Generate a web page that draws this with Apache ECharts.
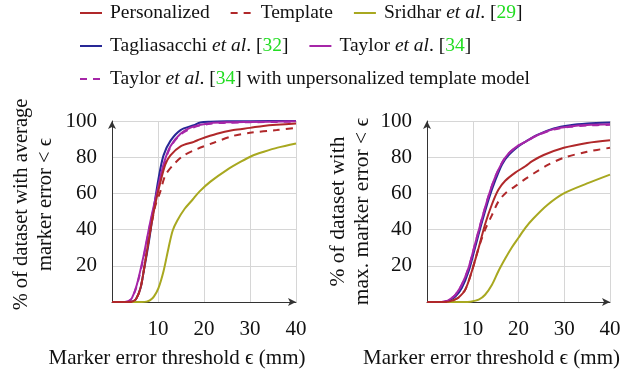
<!DOCTYPE html>
<html>
<head>
<meta charset="utf-8">
<script src="https://cdn.jsdelivr.net/npm/echarts@6/dist/echarts.min.js"></script>
<style>
  html, body { margin: 0; padding: 0; background: #fff; }
  #chart { width: 629px; height: 371px; }
</style>
</head>
<body>
<div id="chart"></div>
<script>
// left panel: average marker error, [threshold mm, % of dataset]
const avgPersonalized = [[0,0],[3.5,0],[4.5,0.3],[5.3,2],[6.2,7.7],[7.2,22],[8.3,39],[9.4,54],[10.5,66],[11.6,76],[12.7,81],[14.9,86],[17.8,88.5],[19.2,90],[22.8,93],[26.4,95],[30,96.2],[32.9,97.3],[40,98.6]];
const avgTemplate = [[0,0],[3.5,0],[4.5,0.3],[5.3,2],[6.2,7.7],[7.2,22],[8.3,39],[9.4,53],[10.5,61],[11.6,70],[13.4,76],[15.6,81],[18.5,84.5],[22.1,88],[26.4,91.8],[30,93.5],[35.8,95],[40,96.2]];
const avgSridhar = [[0,0],[6.5,0],[7.5,0.2],[8.3,1],[9.1,3],[10.1,7.7],[11.2,17],[12.3,30],[13.2,39.5],[14.2,45],[15.8,51.5],[17.5,56.5],[19,61],[21.4,66.5],[25,73],[28,77.5],[30.5,80.8],[33,83],[36,85.3],[40,87.6]];
const avgTagliasacchi = [[0,0],[3.5,0],[4.5,0.3],[5.2,1.5],[6.2,7.7],[6.9,17],[8,33],[9.1,52],[10.1,68],[11.2,81],[12.7,89],[14.9,95],[17.8,97.7],[19.2,99.2],[21.4,99.6],[25,99.8],[30,99.9],[40,100]];
const avgTaylor = [[0,0],[2.8,0],[3.5,0.3],[4.3,2],[5.4,9.5],[6.9,26],[8.3,44],[9.8,61],[11.2,76],[12.7,86],[14.9,93],[17.8,97],[21.4,98.8],[25,99.3],[30,99.5],[40,99.8]];
const avgTaylorTemplate = [[0,0],[2.8,0],[3.5,0.3],[4.3,2],[5.4,9],[6.9,25],[8.3,43],[9.8,60],[11.2,75],[12.7,85.5],[14.9,92.5],[17.8,96.5],[21.4,98.5],[25,99],[30,99.3],[40,99.6]];

// right panel: max marker error
const maxPersonalized = [[0,0],[3.8,0],[4.7,0.2],[5.8,1],[6.9,2.5],[8.4,7],[9.8,17],[11.3,30],[12.7,43],[14.2,54],[15.6,62],[17.1,67],[19.3,71.5],[21.5,75],[23,77.8],[25.5,81.2],[29.9,85.2],[35,87.9],[40,89.4]];
const maxTemplate = [[0,0],[3.8,0],[4.7,0.2],[5.8,1],[6.9,2.5],[8.4,7],[9.8,17],[11.3,30],[12.7,40],[14.2,48],[15.6,55.5],[17.1,60],[19.3,64],[21.5,68],[23.3,71],[26.3,75.6],[29.9,79.7],[35,83],[40,85.2]];
const maxSridhar = [[0,0],[8,0],[9.5,0.2],[11.3,1.3],[12.7,4],[14.2,9.5],[15.6,17],[17.1,24],[18.5,30],[20,35.5],[21.5,41],[23.2,46],[26.3,53.6],[29.9,60],[35,65.5],[40,70.4]];
const maxTagliasacchi = [[0,0],[3.2,0],[4,0.2],[5,1],[6.2,3],[7.6,7.7],[9.1,17],[10.5,30],[12,44],[13.5,57],[14.9,67],[16.4,76],[17.8,81],[20,86],[21.5,88.5],[24,92.2],[27.7,95.9],[31.3,97.7],[35,98.6],[40,99.2]];
const maxTaylor = [[0,0],[3.2,0],[4,0.3],[5,1.5],[6.2,4],[7.6,9.5],[9.1,19],[10.5,32],[12,46],[13.5,59],[14.9,69],[16.4,77],[17.8,82],[20,86.5],[21.5,88.5],[24,92],[27.7,95.5],[31.3,97],[35,97.8],[40,98.2]];
const maxTaylorTemplate = [[0,0],[3.2,0],[4,0.3],[5,1.5],[6.2,4],[7.6,9.5],[9.1,19],[10.5,32],[12,46],[13.5,59],[14.9,69],[16.4,77],[17.8,82],[20,86.5],[21.5,88.5],[24,92],[27.7,95.3],[31.3,96.8],[35,97.5],[40,97.9]];

const xTicks = [10, 20, 30, 40];
const yTicks = [20, 40, 60, 80, 100];

const FONT = 'Liberation Serif';
const RED = '#b0282a';
const OLIVE = '#a8a820';
const BLUE = '#282896';
const PURPLE = '#a626a8';

const names = {
  personalized: 'Personalized',
  template: 'Template',
  sridhar: 'Sridhar et al. [29]',
  tagliasacchi: 'Tagliasacchi et al. [32]',
  taylor: 'Taylor et al. [34]',
  taylorTemplate: 'Taylor et al. [34] with unpersonalized template model'
};

const chart = echarts.init(document.getElementById('chart'));

function makeSeries(idx, data, name, color, dashed) {
  return {
    type: 'line',
    name: name,
    xAxisIndex: idx,
    yAxisIndex: idx,
    data: data,
    symbol: 'none',
    smooth: 0.3,
    lineStyle: { color: color, width: 2, type: dashed ? [7, 6] : 'solid' },
    itemStyle: { color: color }
  };
}

function panelSeries(idx, d) {
  return [
    makeSeries(idx, d.tagliasacchi, names.tagliasacchi, BLUE, false),
    makeSeries(idx, d.taylorTemplate, names.taylorTemplate, PURPLE, true),
    makeSeries(idx, d.taylor, names.taylor, PURPLE, false),
    makeSeries(idx, d.sridhar, names.sridhar, OLIVE, false),
    makeSeries(idx, d.template, names.template, RED, true),
    makeSeries(idx, d.personalized, names.personalized, RED, false)
  ];
}

const legendBase = {
  orient: 'horizontal',
  itemWidth: 22,
  itemHeight: 14,
  itemGap: 20,
  padding: 0,
  selectedMode: false,
  itemStyle: { opacity: 0 },
  formatter: function (n) {
    return n.replace('et al.', '{i|et al}.').replace(/\[(\d+)\]/, '[{g|$1}]');
  },
  textStyle: {
    fontFamily: FONT, fontSize: 19.5, color: '#111', lineHeight: 20, padding: [0, 0, 0, 3],
    rich: {
      i: { fontFamily: FONT, fontSize: 19.5, fontStyle: 'italic', color: '#111' },
      g: { fontFamily: FONT, fontSize: 19.5, color: '#22dd22' }
    }
  }
};

function xAxisFor(idx) {
  return {
    gridIndex: idx,
    type: 'value',
    min: 0, max: 40, interval: 10,
    axisLine: { show: true, symbol: ['none', 'arrow'], symbolSize: [6, 8], lineStyle: { color: '#333', width: 1 } },
    axisTick: { show: false },
    axisLabel: {
      fontFamily: FONT, fontSize: 21, color: '#111', margin: 17,
      formatter: function (v) { return xTicks.indexOf(v) >= 0 ? String(v) : ''; }
    },
    splitLine: { show: true, lineStyle: { color: '#d6d6d6', width: 1 } },
    name: 'Marker error threshold ϵ (mm)',
    nameLocation: 'middle',
    nameGap: 46,
    nameTextStyle: { fontFamily: FONT, fontSize: 21, color: '#111', padding: [0, 54, 0, 0] }
  };
}

function yAxisFor(idx, label, gap, shift, size) {
  return {
    gridIndex: idx,
    type: 'value',
    min: 0, max: 100, interval: 20,
    axisLine: { show: true, symbol: ['none', 'arrow'], symbolSize: [6, 8], lineStyle: { color: '#333', width: 1 } },
    axisTick: { show: false },
    axisLabel: {
      fontFamily: FONT, fontSize: 21, color: '#111', margin: 15,
      formatter: function (v) { return yTicks.indexOf(v) >= 0 ? String(v) : ''; }
    },
    splitLine: { show: true, lineStyle: { color: '#d6d6d6', width: 1 } },
    name: label,
    nameLocation: 'middle',
    nameRotate: 90,
    nameGap: gap,
    nameTextStyle: { fontFamily: FONT, fontSize: size, color: '#111', lineHeight: 24, padding: [0, 0, 0, shift] }
  };
}

const option = {
  animation: false,
  backgroundColor: '#fff',
  legend: [
    Object.assign({}, legendBase, { left: 79, top: 3, data: [names.personalized, names.template, names.sridhar] }),
    Object.assign({}, legendBase, { left: 79, top: 36, data: [names.tagliasacchi, names.taylor] }),
    Object.assign({}, legendBase, { left: 79, top: 69, data: [names.taylorTemplate] })
  ],
  grid: [
    { left: 112, top: 121, width: 184, height: 181 },
    { left: 427, top: 121, width: 183, height: 181 }
  ],
  xAxis: [xAxisFor(0), xAxisFor(1)],
  yAxis: [
    yAxisFor(0, '% of dataset with average\nmarker error < ϵ', 54, 14, 20.5),
    yAxisFor(1, '% of dataset with\nmax. marker error < ϵ', 53, 0, 21.5)
  ],
  series: panelSeries(0, {
    personalized: avgPersonalized, template: avgTemplate, sridhar: avgSridhar,
    tagliasacchi: avgTagliasacchi, taylor: avgTaylor, taylorTemplate: avgTaylorTemplate
  }).concat(panelSeries(1, {
    personalized: maxPersonalized, template: maxTemplate, sridhar: maxSridhar,
    tagliasacchi: maxTagliasacchi, taylor: maxTaylor, taylorTemplate: maxTaylorTemplate
  }))
};

chart.setOption(option);
</script>
</body>
</html>
